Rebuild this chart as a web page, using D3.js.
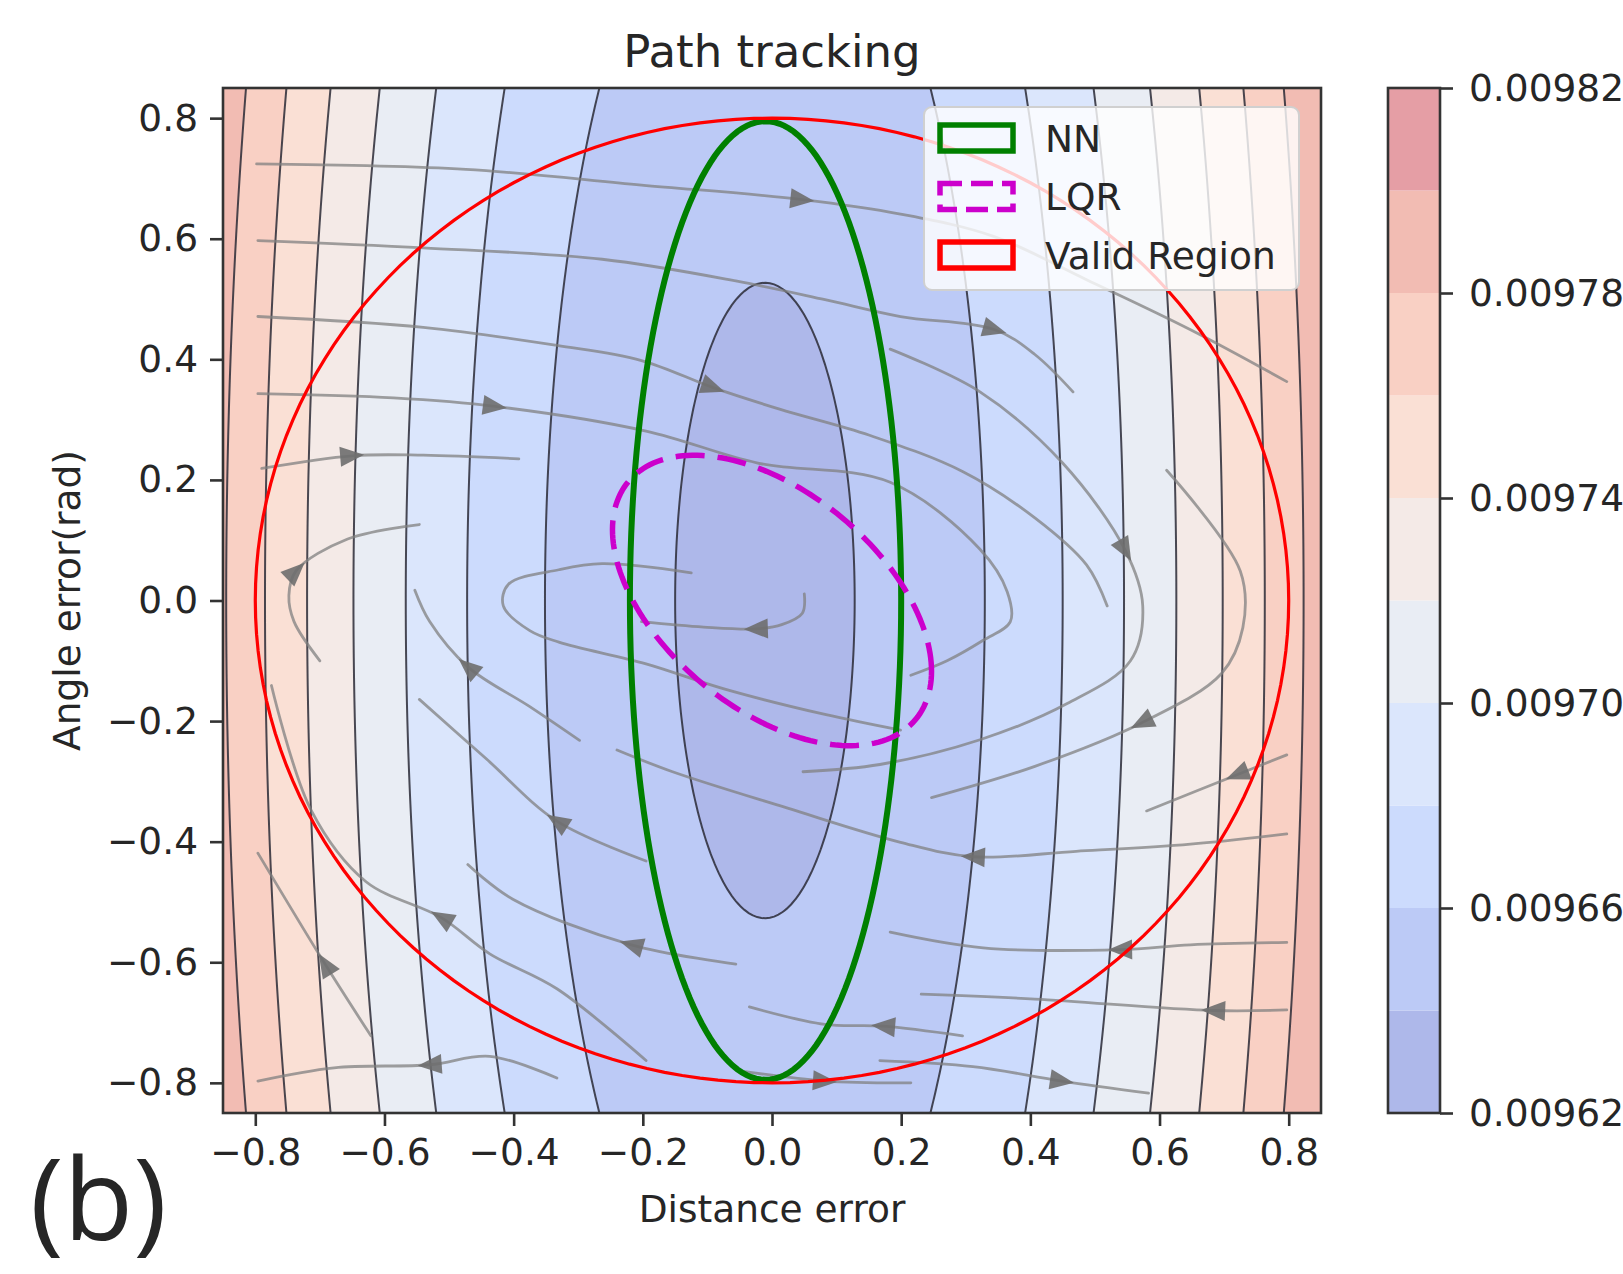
<!DOCTYPE html>
<html>
<head>
<meta charset="utf-8">
<script src="https://cdn.jsdelivr.net/npm/d3@7"></script>
<style>
  body { margin: 0; background: #fff; }
  text { font-family: "DejaVu Sans", sans-serif; fill: #262626; }
</style>
</head>
<body>
<div id="chart"></div>
<script>
// ---- data ----
var levels = [0.00962, 0.00964, 0.00966, 0.00968, 0.00970, 0.00972,
              0.00974, 0.00976, 0.00978, 0.00980, 0.00982];
var cbarTicks = [0.00962, 0.00966, 0.00970, 0.00974, 0.00978, 0.00982];
var axisTicks = [-0.8, -0.6, -0.4, -0.2, 0.0, 0.2, 0.4, 0.6, 0.8];

// Lyapunov-like value: V = vMin + d' P d, d = p - centre
var lyapMin = 0.009636;
var lyapCenter = [-0.011, 0];
var lyapP = [[2.07e-4, 0], [0, 1.44e-5]];

// ellipses as centre + shape matrix (x' S^-1 x = 1)
var nnEllipse = {center: [-0.01, 0], shape: [[0.0441, 0], [0, 0.632]]};
var lqrEllipse = {center: [0, 0], shape: [[0.061, -0.029], [-0.029, 0.058]]};
var validEllipse = {center: [0, 0], shape: [[0.64, 0], [0, 0.64]]};

// streamlines (flow order) and index of the point carrying the arrow
var streamlines = [
  {pts: [[-0.798,0.724],[-0.474,0.715],[-0.202,0.689],[0.047,0.665],[0.199,0.641],[0.343,0.604],[0.487,0.532],[0.648,0.449],[0.797,0.363]], arrow: 3},
  {pts: [[-0.796,0.597],[-0.540,0.585],[-0.263,0.566],[-0.056,0.530],[0.082,0.499],[0.199,0.471],[0.345,0.449],[0.407,0.408],[0.466,0.346]], arrow: 6},
  {pts: [[-0.796,0.471],[-0.540,0.453],[-0.333,0.423],[-0.202,0.398],[-0.091,0.353],[0.013,0.317],[0.151,0.274],[0.295,0.214],[0.407,0.137],[0.487,0.059],[0.519,-0.009]], arrow: 4},
  {pts: [[-0.796,0.343],[-0.586,0.336],[-0.429,0.322],[-0.195,0.281],[-0.022,0.228],[0.183,0.196],[0.322,0.085],[0.364,0.015],[0.369,-0.035],[0.327,-0.066],[0.271,-0.100],[0.215,-0.124]], arrow: 2},
  {pts: [[0.199,-0.215],[0.082,-0.189],[-0.073,-0.147],[-0.195,-0.105],[-0.330,-0.069],[-0.375,-0.050],[-0.416,-0.009],[-0.408,0.027],[-0.330,0.051],[-0.263,0.061],[-0.125,0.046]], arrow: null},
  {pts: [[-0.790,0.219],[-0.650,0.240],[-0.540,0.241],[-0.392,0.235]], arrow: 1},
  {pts: [[-0.700,-0.100],[-0.740,-0.035],[-0.748,0.008],[-0.737,0.049],[-0.657,0.102],[-0.546,0.126]], arrow: 3},
  {pts: [[0.050,0.011],[0.047,-0.021],[0.015,-0.040],[-0.025,-0.047],[-0.106,-0.044],[-0.202,-0.035]], arrow: 3},
  {pts: [[-0.298,-0.232],[-0.375,-0.176],[-0.471,-0.110],[-0.530,-0.035],[-0.553,0.017]], arrow: 2},
  {pts: [[-0.195,-0.432],[-0.333,-0.366],[-0.442,-0.263],[-0.546,-0.164]], arrow: 1},
  {pts: [[-0.056,-0.603],[-0.218,-0.571],[-0.402,-0.495],[-0.471,-0.438]], arrow: 1},
  {pts: [[-0.195,-0.763],[-0.333,-0.644],[-0.437,-0.586],[-0.512,-0.526],[-0.629,-0.466],[-0.713,-0.349],[-0.775,-0.141]], arrow: 3},
  {pts: [[-0.621,-0.722],[-0.692,-0.603],[-0.796,-0.419]], arrow: 1},
  {pts: [[-0.333,-0.792],[-0.437,-0.756],[-0.530,-0.770],[-0.678,-0.775],[-0.796,-0.797]], arrow: 2},
  {pts: [[0.295,-0.722],[0.172,-0.706],[0.082,-0.703],[-0.035,-0.674]], arrow: 1},
  {pts: [[0.183,0.417],[0.322,0.346],[0.450,0.228],[0.547,0.083],[0.574,-0.009],[0.555,-0.100],[0.457,-0.171],[0.322,-0.231],[0.167,-0.272],[0.048,-0.284]], arrow: 3},
  {pts: [[0.611,0.216],[0.725,0.049],[0.729,-0.045],[0.696,-0.121],[0.572,-0.203],[0.407,-0.275],[0.247,-0.327]], arrow: 4},
  {pts: [[0.797,-0.256],[0.720,-0.289],[0.580,-0.349]], arrow: 1},
  {pts: [[0.797,-0.387],[0.648,-0.404],[0.471,-0.416],[0.311,-0.425],[0.199,-0.401],[0.023,-0.344],[-0.154,-0.284],[-0.240,-0.248]], arrow: 3},
  {pts: [[0.797,-0.567],[0.648,-0.571],[0.539,-0.579],[0.327,-0.576],[0.183,-0.550]], arrow: 2},
  {pts: [[0.797,-0.679],[0.683,-0.680],[0.407,-0.661],[0.231,-0.653]], arrow: 1},
  {pts: [[-0.050,-0.780],[0.082,-0.797],[0.215,-0.800]], arrow: 1},
  {pts: [[0.167,-0.763],[0.311,-0.773],[0.449,-0.797],[0.583,-0.817]], arrow: 2}
];

var legendItems = [
  {label: "NN", color: "#008000", dash: null},
  {label: "LQR", color: "#cc00cc", dash: "22,9"},
  {label: "Valid Region", color: "#ff0000", dash: null}
];

// ---- layout ----
var W = 1623, H = 1274;
var plot = {left: 223, right: 1321, top: 88, bottom: 1113};
var fontSize = 37.5;

var svg = d3.select("#chart").append("svg")
  .attr("width", W).attr("height", H);

var x = d3.scaleLinear().domain([-0.85, 0.85]).range([plot.left, plot.right]);
var y = d3.scaleLinear().domain([-0.85, 0.85]).range([plot.bottom, plot.top]);

// coolwarm anchors
var coolwarm = d3.interpolateRgbBasis(["#3b4cc0", "#6282ea", "#8db0fe", "#b8d0f9",
  "#dddddd", "#f5c4ac", "#f49a7b", "#de604d", "#b40426"]);
var alpha = 0.45;
function bandColor(i) {
  var t = (i + 0.5) / (levels.length - 1);
  return d3.interpolateRgb("#ffffff", coolwarm(t))(alpha);
}

svg.append("clipPath").attr("id", "clip")
  .append("rect")
  .attr("x", plot.left).attr("y", plot.top)
  .attr("width", plot.right - plot.left).attr("height", plot.bottom - plot.top);

var chartGroup = svg.append("g").attr("clip-path", "url(#clip)");

// ---- contour field ----
function lyap(px, py) {
  var dx = px - lyapCenter[0], dy = py - lyapCenter[1];
  return lyapMin + lyapP[0][0] * dx * dx + 2 * lyapP[0][1] * dx * dy + lyapP[1][1] * dy * dy;
}

var nx = 260, ny = 260;
var gx = d3.scaleLinear().domain([0, nx - 1]).range([-0.85, 0.85]);
var gy = d3.scaleLinear().domain([0, ny - 1]).range([0.85, -0.85]);
var values = new Array(nx * ny);
for (var j = 0; j < ny; j++) {
  for (var i = 0; i < nx; i++) {
    values[j * nx + i] = lyap(gx(i), gy(j));
  }
}

var contours = d3.contours().size([nx, ny]).thresholds(levels)(values);

var gridPath = d3.geoPath(d3.geoTransform({
  point: function(px, py) {
    this.stream.point(x(gx(px - 0.5)), y(gy(py - 0.5)));
  }
}));

chartGroup.append("g").selectAll("path")
  .data(contours.slice(0, levels.length - 1))
  .enter().append("path")
  .attr("d", gridPath)
  .attr("fill", function(d, k) { return bandColor(k); })
  .attr("stroke", "none");

chartGroup.append("g").selectAll("path")
  .data(contours.slice(1, levels.length - 1))
  .enter().append("path")
  .attr("d", gridPath)
  .attr("fill", "none")
  .attr("stroke", "#2a2a36")
  .attr("stroke-opacity", 0.85)
  .attr("stroke-width", 2);

// ---- streamlines ----
var streamLine = d3.line()
  .x(function(d) { return x(d[0]); })
  .y(function(d) { return y(d[1]); })
  .curve(d3.curveCatmullRom.alpha(0.5));

var streamGroup = chartGroup.append("g");
streamGroup.selectAll("path.stream")
  .data(streamlines)
  .enter().append("path")
  .attr("class", "stream")
  .attr("d", function(d) { return streamLine(d.pts); })
  .attr("fill", "none")
  .attr("stroke", "#808080")
  .attr("stroke-opacity", 0.75)
  .attr("stroke-width", 2.8)
  .attr("stroke-linecap", "round");

streamGroup.selectAll("path.arrow")
  .data(streamlines.filter(function(d) { return d.arrow !== null; }))
  .enter().append("path")
  .attr("class", "arrow")
  .attr("d", function(d) {
    var k = d.arrow;
    var a = d.pts[Math.max(0, k - 1)], b = d.pts[Math.min(d.pts.length - 1, k + 1)];
    var ang = Math.atan2(y(b[1]) - y(a[1]), x(b[0]) - x(a[0]));
    var cx = x(d.pts[k][0]), cy = y(d.pts[k][1]);
    var L = 24, Wd = 10;
    var ca = Math.cos(ang), sa = Math.sin(ang);
    var tip = [cx + ca * L / 2, cy + sa * L / 2];
    var bl = [cx - ca * L / 2 - sa * Wd, cy - sa * L / 2 + ca * Wd];
    var br = [cx - ca * L / 2 + sa * Wd, cy - sa * L / 2 - ca * Wd];
    return "M" + tip + "L" + bl + "L" + br + "Z";
  })
  .attr("fill", "#6e6e6e")
  .attr("fill-opacity", 0.9);

// ---- ellipses ----
function ellipsePoints(e) {
  var s = e.shape;
  var l11 = Math.sqrt(s[0][0]);
  var l21 = s[1][0] / l11;
  var l22 = Math.sqrt(s[1][1] - l21 * l21);
  return d3.range(0, 361, 2).map(function(deg) {
    var t = deg * Math.PI / 180;
    var u = Math.cos(t), v = Math.sin(t);
    return [e.center[0] + l11 * u, e.center[1] + l21 * u + l22 * v];
  });
}
var ellipseLine = d3.line()
  .x(function(d) { return x(d[0]); })
  .y(function(d) { return y(d[1]); })
  .curve(d3.curveLinearClosed);

chartGroup.append("path")
  .attr("d", ellipseLine(ellipsePoints(nnEllipse)))
  .attr("fill", "none").attr("stroke", "#008000").attr("stroke-width", 6);
chartGroup.append("path")
  .attr("d", ellipseLine(ellipsePoints(lqrEllipse)))
  .attr("fill", "none").attr("stroke", "#cc00cc").attr("stroke-width", 5.5)
  .attr("stroke-dasharray", "29,13");
chartGroup.append("path")
  .attr("d", ellipseLine(ellipsePoints(validEllipse)))
  .attr("fill", "none").attr("stroke", "#ff0000").attr("stroke-width", 3.2);

// ---- axes ----
var fmt = d3.format(".1f");
var xAxis = svg.append("g")
  .attr("transform", "translate(0," + plot.bottom + ")")
  .call(d3.axisBottom(x).tickValues(axisTicks).tickSize(13).tickPadding(12).tickFormat(fmt));
var yAxis = svg.append("g")
  .attr("transform", "translate(" + plot.left + ",0)")
  .call(d3.axisLeft(y).tickValues(axisTicks).tickSize(13).tickPadding(12).tickFormat(fmt));
[xAxis, yAxis].forEach(function(ax) {
  ax.select(".domain").remove();
  ax.selectAll(".tick line").attr("stroke", "#333").attr("stroke-width", 2.6);
  ax.selectAll(".tick text").style("font-size", fontSize + "px")
    .style("font-family", "DejaVu Sans").attr("fill", "#262626");
});

svg.append("rect")
  .attr("x", plot.left).attr("y", plot.top)
  .attr("width", plot.right - plot.left).attr("height", plot.bottom - plot.top)
  .attr("fill", "none").attr("stroke", "#333").attr("stroke-width", 2.6);

svg.append("text")
  .attr("x", (plot.left + plot.right) / 2).attr("y", 67)
  .attr("text-anchor", "middle").style("font-size", "45px")
  .text("Path tracking");
svg.append("text")
  .attr("x", (plot.left + plot.right) / 2).attr("y", 1222)
  .attr("text-anchor", "middle").style("font-size", fontSize + "px")
  .text("Distance error");
svg.append("text")
  .attr("transform", "translate(80," + ((plot.top + plot.bottom) / 2) + ") rotate(-90)")
  .attr("text-anchor", "middle").style("font-size", fontSize + "px")
  .text("Angle error(rad)");

// ---- legend ----
var legend = svg.append("g");
legend.append("rect")
  .attr("x", 924).attr("y", 107).attr("width", 375).attr("height", 183)
  .attr("rx", 8).attr("fill", "#ffffff").attr("fill-opacity", 0.8)
  .attr("stroke", "#d0d0d0").attr("stroke-width", 2);
legendItems.forEach(function(item, k) {
  var cy = 138 + k * 58.5;
  legend.append("rect")
    .attr("x", 940).attr("y", cy - 13).attr("width", 73).attr("height", 26)
    .attr("fill", "none").attr("stroke", item.color).attr("stroke-width", 5.5)
    .attr("stroke-dasharray", item.dash);
  legend.append("text")
    .attr("x", 1045).attr("y", cy).attr("dy", "0.36em")
    .style("font-size", fontSize + "px").text(item.label);
});

// ---- colorbar ----
var cb = {left: 1388, right: 1440};
var cbScale = d3.scaleLinear().domain([levels[0], levels[levels.length - 1]]).range([plot.bottom, plot.top]);
var cbar = svg.append("g");
cbar.selectAll("rect.band")
  .data(levels.slice(0, levels.length - 1))
  .enter().append("rect")
  .attr("class", "band")
  .attr("x", cb.left).attr("width", cb.right - cb.left)
  .attr("y", function(d, k) { return cbScale(levels[k + 1]); })
  .attr("height", function(d, k) { return cbScale(levels[k]) - cbScale(levels[k + 1]); })
  .attr("fill", function(d, k) { return bandColor(k); });
cbar.append("rect")
  .attr("x", cb.left).attr("y", plot.top)
  .attr("width", cb.right - cb.left).attr("height", plot.bottom - plot.top)
  .attr("fill", "none").attr("stroke", "#333").attr("stroke-width", 2.6);
var cbAxis = svg.append("g")
  .attr("transform", "translate(" + cb.right + ",0)")
  .call(d3.axisRight(cbScale).tickValues(cbarTicks).tickSize(13).tickPadding(16).tickFormat(d3.format(".5f")));
cbAxis.select(".domain").remove();
cbAxis.selectAll(".tick line").attr("stroke", "#333").attr("stroke-width", 2.6);
cbAxis.selectAll(".tick text").style("font-size", fontSize + "px")
  .style("font-family", "DejaVu Sans").attr("fill", "#262626");

// panel tag
svg.append("text")
  .attr("x", 30).attr("y", 1240)
  .style("font-family", "'Open Sans', sans-serif").style("font-size", "114px")
  .text("(b)");
</script>
</body>
</html>
